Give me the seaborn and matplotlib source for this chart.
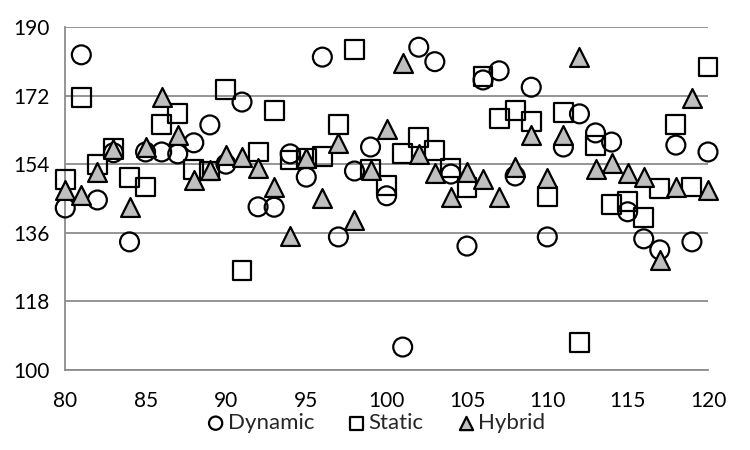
import numpy as np
import pandas as pd
import matplotlib
matplotlib.use("Agg")
import matplotlib.pyplot as plt
import seaborn as sns

# x positions shared by all three series
x_vals = list(range(80, 121))

dynamic = [142.5, 182.7, 144.6, 157.0, 133.6, 157.2, 157.2, 156.7, 159.6, 164.3,
           154.0, 170.3, 142.8, 142.7, 156.7, 150.6, 182.1, 134.9, 152.2, 158.5,
           145.7, 106.0, 184.7, 180.9, 151.4, 132.5, 176.1, 178.5, 150.9, 174.2,
           134.9, 158.5, 167.2, 162.2, 159.8, 141.5, 134.4, 131.5, 159.0, 133.6,
           157.2]

static = [149.9, 171.4, 153.8, 158.2, 150.4, 148.0, 164.3, 167.2, 152.5, 152.2,
          173.7, 126.0, 157.2, 168.2, 155.1, 155.4, 155.9, 164.5, 184.0, 152.5,
          148.5, 156.7, 161.1, 157.5, 153.0, 147.8, 176.9, 166.1, 168.2, 165.1,
          145.4, 167.5, 107.3, 158.8, 143.3, 144.1, 139.9, 147.5, 164.5, 148.0,
          179.5]

hybrid = [147.2, 145.9, 152.0, 158.0, 142.8, 158.5, 171.6, 161.7, 149.9, 152.5,
          156.4, 155.9, 153.0, 148.0, 135.2, 155.6, 145.1, 159.6, 139.4, 152.5,
          163.2, 180.5, 156.7, 151.7, 145.4, 152.0, 150.1, 145.4, 153.3, 161.7,
          150.4, 161.7, 182.1, 152.7, 154.3, 151.7, 150.6, 128.9, 148.0, 171.4,
          147.2]

x_ticks = [80, 85, 90, 95, 100, 105, 110, 115, 120]
y_ticks = [100, 118, 136, 154, 172, 190]

sns.set_style("white")
plt.rcParams['font.family'] = ['Lato', 'DejaVu Sans']

fig, ax = plt.subplots(figsize=(7.5, 4.5), dpi=100)
fig.subplots_adjust(left=0.087, right=0.944, top=0.94, bottom=0.178)

series = [
    ("Dynamic", dynamic, "o", "none"),
    ("Static", static, "s", "none"),
    ("Hybrid", hybrid, "^", "#bfbfbf"),
]
for name, vals, mk, fc in series:
    df = pd.DataFrame({"x": x_vals, "y": vals})
    sns.scatterplot(data=df, x="x", y="y", marker=mk, s=185,
                    facecolor=fc, edgecolor="black", linewidth=1.6,
                    label=name, ax=ax, zorder=3, clip_on=False)

ax.set_xlim(80, 120)
ax.set_ylim(100, 190)
ax.set_xticks(x_ticks)
ax.set_yticks(y_ticks)
ax.set_xlabel("")
ax.set_ylabel("")
ax.grid(axis="y", color="#8c8c8c", linewidth=1.3)
ax.set_axisbelow(True)
for side in ["top", "right"]:
    ax.spines[side].set_visible(False)
for side in ["left", "bottom"]:
    ax.spines[side].set_color("#8c8c8c")
    ax.spines[side].set_linewidth(1.3)
ax.tick_params(axis="both", direction="out", length=6, width=1.3,
               color="#8c8c8c", labelsize=15, labelcolor="black")
ax.tick_params(axis="x", pad=9)
ax.tick_params(axis="y", pad=5)

ax.legend_.remove()
handles, labels = ax.get_legend_handles_labels()
fig.legend(handles, labels, loc="center", bbox_to_anchor=(0.5, 0.06), ncol=3,
           frameon=False, fontsize=16, handletextpad=0.05, columnspacing=1.4,
           markerscale=0.7, handlelength=1.0)

fig.savefig("out.png", dpi=100)
